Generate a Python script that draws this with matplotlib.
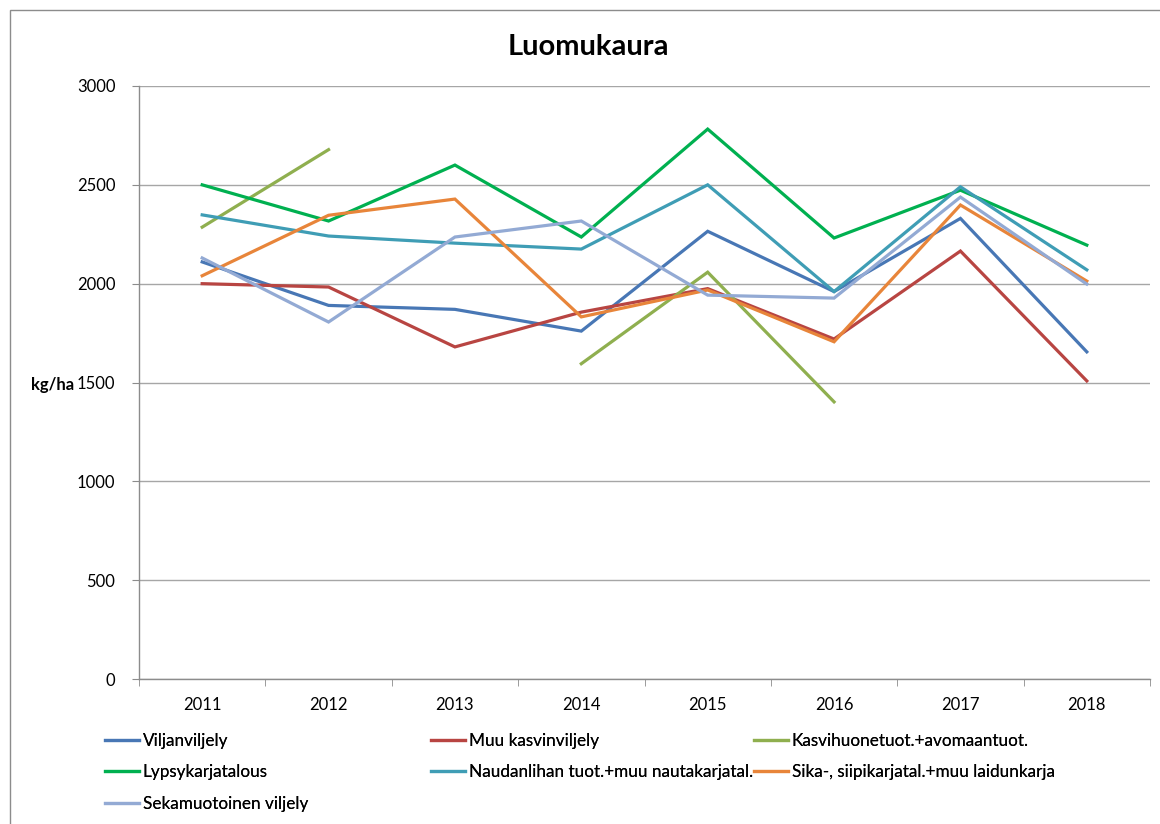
import matplotlib.pyplot as plt
import matplotlib.patches as mpatches
import numpy as np

# --- data (kg/ha) ------------------------------------------------------------
years = [2011, 2012, 2013, 2014, 2015, 2016, 2017, 2018]
nan = np.nan

viljanviljely = [2110, 1890, 1870, 1760, 2265, 1960, 2330, 1655]
muu_kasvinviljely = [2000, 1983, 1680, 1856, 1975, 1720, 2165, 1508]
kasvihuone = [2286, 2678, nan, 1595, 2058, 1402, nan, nan]
lypsykarjatalous = [2500, 2317, 2600, 2236, 2782, 2231, 2473, 2195]
naudanliha = [2348, 2241, 2205, 2175, 2500, 1960, 2490, 2070]
sika = [2040, 2346, 2428, 1832, 1968, 1706, 2398, 2013]
sekamuotoinen = [2130, 1806, 2236, 2317, 1942, 1927, 2438, 1998]

labels = [
    "Viljanviljely",
    "Muu kasvinviljely",
    "Kasvihuonetuot.+avomaantuot.",
    "Lypsykarjatalous",
    "Naudanlihan tuot.+muu nautakarjatal.",
    "Sika-, siipikarjatal.+muu laidunkarja",
    "Sekamuotoinen viljely",
]
series = [viljanviljely, muu_kasvinviljely, kasvihuone, lypsykarjatalous,
          naudanliha, sika, sekamuotoinen]
colors = ["#4877B5", "#B84542", "#8FAF4F", "#00B050",
          "#3F9DB5", "#E8853A", "#93AAD4"]

plt.rcParams["font.family"] = ["Lato", "DejaVu Sans"]
FS = 12

fig = plt.figure(figsize=(11.6, 8.24), dpi=100)
W, H = 1160, 824

# chart border (grey frame as in the spreadsheet export)
fig.patches.append(mpatches.Rectangle(
    (10 / W, -0.05), 1.2, 1 - 10 / H + 0.05, transform=fig.transFigure,
    fill=False, ec="#8c8c8c", lw=1.0))

ax = fig.add_axes([139 / W, 1 - 679 / H, (1150 - 139) / W, (679 - 86) / H])

lines = []
for vals, lab, col in zip(series, labels, colors):
    ln, = ax.plot(years, vals, color=col, lw=2.3, label=lab,
                  solid_joinstyle="miter")
    lines.append(ln)

ax.set_xlim(2010.5, 2018.5)
ax.set_ylim(0, 3000)
ax.set_yticks(np.arange(0, 3001, 500))
ax.set_xticks(years)
ax.set_xticks(np.arange(2010.5, 2018.6, 1), minor=True)
ax.tick_params(axis="x", which="major", length=0, pad=13, labelsize=FS)
ax.tick_params(axis="x", which="minor", length=5, color="#8c8c8c")
ax.tick_params(axis="y", length=5, color="#8c8c8c", pad=12, labelsize=FS)
ax.grid(axis="y", color="#a6a6a6", lw=1.0)
ax.set_axisbelow(True)
for s in ("top", "right"):
    ax.spines[s].set_visible(False)
for s in ("left", "bottom"):
    ax.spines[s].set_color("#8c8c8c")
    ax.spines[s].set_linewidth(1.0)

fig.text(53 / W, 1 - 385 / H, "kg/ha", ha="center", va="center",
         fontsize=FS, fontweight="bold")
fig.text(588 / W, 1 - 47 / H, "Luomukaura", ha="center", va="center",
         fontsize=21, fontweight="bold")

# legend: three columns placed row-wise
cols = [[0, 3, 6], [1, 4], [2, 5]]
col_x = [105, 431, 754]
for idx, cx in zip(cols, col_x):
    leg = fig.legend([lines[i] for i in idx], [labels[i] for i in idx],
                     loc="upper left", bbox_to_anchor=(cx / W, 1 - 733 / H),
                     frameon=False, fontsize=12.3, handlelength=2.0,
                     handletextpad=0.2, labelspacing=0.9, borderpad=0,
                     borderaxespad=0)
    fig.add_artist(leg)

fig.savefig("out.png", dpi=100)
